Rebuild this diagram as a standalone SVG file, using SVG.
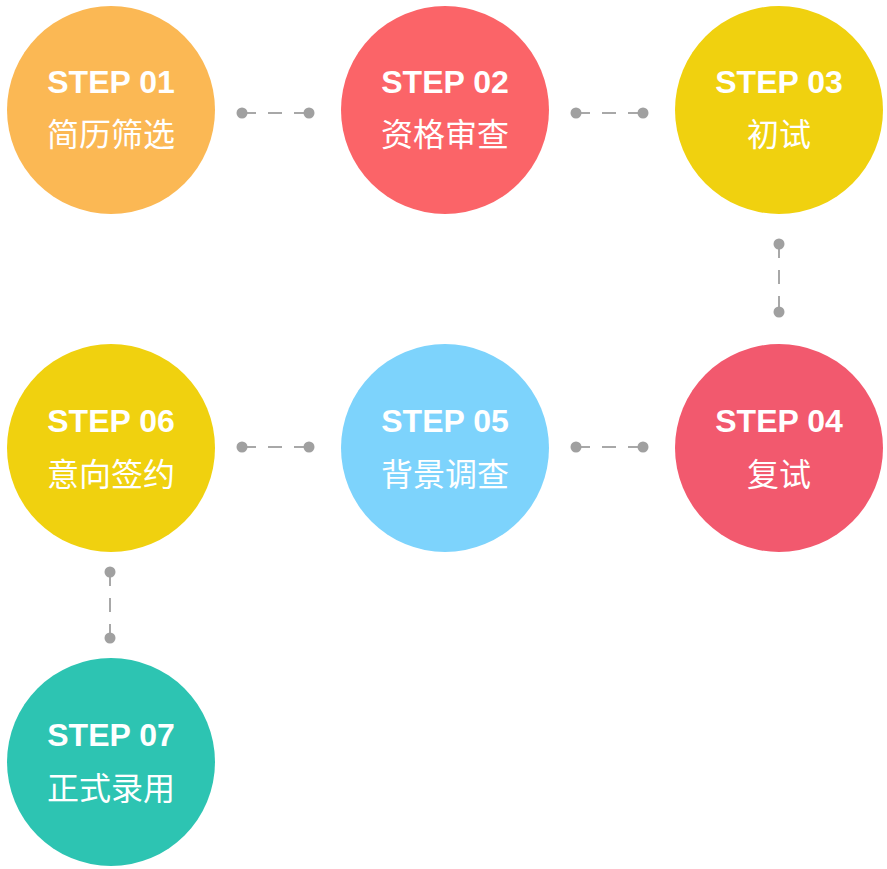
<svg xmlns="http://www.w3.org/2000/svg" width="887" height="869" viewBox="0 0 887 869">
<style>
.t1{font-family:"Liberation Sans","Noto Sans",sans-serif;font-weight:bold;font-size:32px;fill:#fff;text-anchor:middle}
.t2{font-family:"Noto Sans CJK SC",sans-serif;font-size:32px;fill:#fff;text-anchor:middle}
.c{stroke:#a8a8a8;stroke-width:2;stroke-dasharray:14 12;fill:none}
.d{fill:#a0a0a0}
</style>
<rect width="887" height="869" fill="#fff"/>
<g id="connectors">
<path class="c" d="M242 113H309M576 113H643M242 447H309M576 447H643"/>
<path class="c" d="M779 244V312M110 572V638"/>
<g class="d">
<circle cx="242" cy="113" r="5.5"/><circle cx="309" cy="113" r="5.5"/>
<circle cx="576" cy="113" r="5.5"/><circle cx="643" cy="113" r="5.5"/>
<circle cx="242" cy="447" r="5.5"/><circle cx="309" cy="447" r="5.5"/>
<circle cx="576" cy="447" r="5.5"/><circle cx="643" cy="447" r="5.5"/>
<circle cx="779" cy="244" r="5.5"/><circle cx="779" cy="312" r="5.5"/>
<circle cx="110" cy="572" r="5.5"/><circle cx="110" cy="638" r="5.5"/>
</g>
</g>
<g id="n1"><circle cx="111" cy="110" r="104" fill="#FBB854"/><text class="t1" x="111" y="93">STEP 01</text><text class="t2" x="111" y="146">简历筛选</text></g>
<g id="n2"><circle cx="445" cy="110" r="104" fill="#FB6468"/><text class="t1" x="445" y="93">STEP 02</text><text class="t2" x="445" y="146">资格审查</text></g>
<g id="n3"><circle cx="779" cy="110" r="104" fill="#F0D10F"/><text class="t1" x="779" y="93">STEP 03</text><text class="t2" x="779" y="146">初试</text></g>
<g id="n4"><circle cx="779" cy="448" r="104" fill="#F2596E"/><text class="t1" x="779" y="432">STEP 04</text><text class="t2" x="779" y="486">复试</text></g>
<g id="n5"><circle cx="445" cy="448" r="104" fill="#7DD3FC"/><text class="t1" x="445" y="432">STEP 05</text><text class="t2" x="445" y="486">背景调查</text></g>
<g id="n6"><circle cx="111" cy="448" r="104" fill="#F0D10F"/><text class="t1" x="111" y="432">STEP 06</text><text class="t2" x="111" y="486">意向签约</text></g>
<g id="n7"><circle cx="111" cy="762" r="104" fill="#2DC4B2"/><text class="t1" x="111" y="746">STEP 07</text><text class="t2" x="111" y="800">正式录用</text></g>
</svg>
